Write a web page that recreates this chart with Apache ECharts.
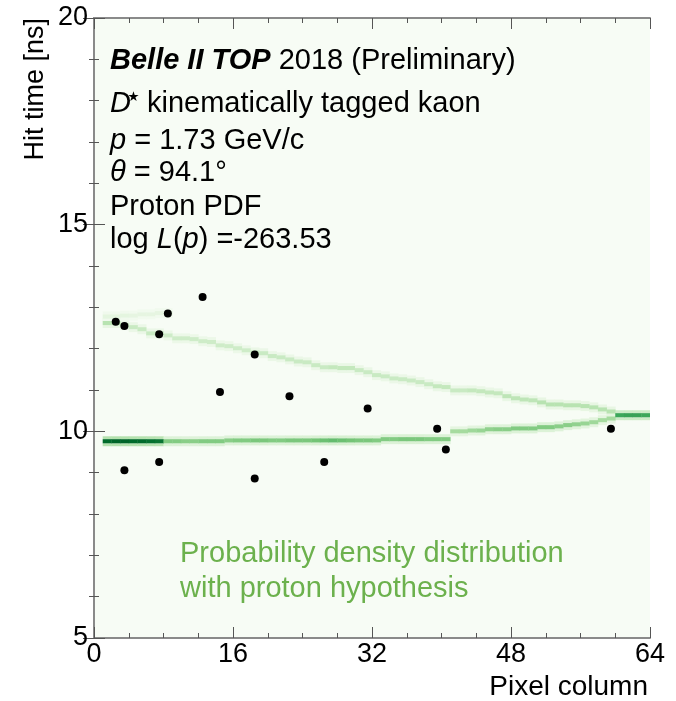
<!DOCTYPE html>
<html><head><meta charset="utf-8">
<script src="https://cdn.jsdelivr.net/npm/echarts@6/dist/echarts.min.js"></script>
<style>html,body{margin:0;padding:0;background:#fff}#c{width:676px;height:701px}</style>
</head><body><div id="c"></div><script>
// ---- data ----
const xTickInterval = 16;
const yTickInterval = 5;
// measured photon hits (pixel column centre, hit time in ns)
const hitCols  = [2.5, 3.5, 7.5, 8.5, 12.5, 14.5, 18.5, 22.5, 31.5, 3.5, 7.5, 18.5, 26.5, 39.5, 40.5, 59.5];
const hitTimes = [12.65, 12.55, 12.35, 12.85, 13.25, 10.95, 11.86, 10.85, 10.55, 9.06, 9.26, 8.86, 9.26, 10.06, 9.56, 10.06];
// PDF ridge: upper (reflected) band, per pixel column 0..63
const upperT = [null,
  12.62,12.62,12.57,12.52,12.47,12.37,12.37,12.32,12.25,12.25,
  12.23,12.18,12.16,12.08,12.06,12.01,11.96,11.91,11.89,11.82,
  11.79,11.74,11.69,11.67,11.60,11.55,11.55,11.53,11.53,11.48,
  11.43,11.36,11.33,11.28,11.26,11.23,11.19,11.14,11.09,11.07,
  10.99,10.99,10.99,10.97,10.94,10.92,10.85,10.80,10.77,10.75,
  10.70,10.65,10.65,10.63,10.63,10.61,10.58,10.53,10.48,
  null,null,null,null];
const upperV = [null,
  0.30,0.30,0.26,0.24,0.24,0.24,0.24,0.22,0.22,0.22,
  0.22,0.22,0.22,0.22,0.22,0.22,0.22,0.24,0.24,0.24,
  0.24,0.24,0.24,0.24,0.24,0.24,0.26,0.26,0.26,0.24,
  0.24,0.24,0.24,0.24,0.24,0.24,0.24,0.24,0.26,0.26,
  0.24,0.24,0.26,0.26,0.26,0.26,0.28,0.28,0.28,0.28,
  0.30,0.30,0.30,0.30,0.30,0.30,0.30,0.30,0.30,
  null,null,null,null];
// PDF ridge: lower (direct) band, per pixel column 0..63
const lowerT = [null,
  9.76,9.76,9.76,9.76,9.76,9.76,9.76,
  9.76,9.76,9.76,9.76,9.76,9.76,9.76,
  9.78,9.78,9.78,9.78,9.78,9.78,9.78,9.78,9.78,
  9.78,9.78,9.78,9.78,9.78,9.78,9.78,9.78,9.78,
  9.81,9.81,9.81,9.81,9.81,9.81,9.81,9.81,
  10.00,10.00,10.02,10.02,10.05,10.05,10.05,10.07,10.07,10.07,
  10.10,10.10,10.12,10.15,10.17,10.19,10.22,10.27,10.31,
  10.39,10.39,10.39,10.39];
const lowerV = [null,
  0.88,0.90,0.90,0.88,0.88,0.86,0.84,
  0.46,0.46,0.44,0.44,0.46,0.46,0.46,
  0.44,0.46,0.46,0.48,0.48,0.46,0.46,0.48,0.48,
  0.48,0.50,0.52,0.54,0.52,0.50,0.48,0.48,0.46,
  0.46,0.46,0.48,0.48,0.48,0.46,0.46,0.46,
  0.36,0.36,0.38,0.40,0.42,0.44,0.44,0.46,0.46,0.46,
  0.46,0.46,0.44,0.44,0.42,0.40,0.38,0.36,0.36,
  0.64,0.66,0.66,0.64];
// faint secondary branch at small pixel columns
const faintCols = [1, 2, 3, 4, 5, 6, 7, 8];
const faintT = [12.78, 12.78, 12.80, 12.80, 12.83, 12.83, 12.86, 12.86];
const faintV = [0.13, 0.13, 0.13, 0.12, 0.12, 0.12, 0.12, 0.12];

// ---- build heat-map cells ----
const CORE_H = 0.1, HALO_H = 0.07, HALO_F = 0.35;
const halo = [], core = [];
function addCell(c, t, v) {
  halo.push([c, t + (CORE_H + HALO_H) / 2, v * HALO_F, HALO_H]);
  halo.push([c, t - (CORE_H + HALO_H) / 2, v * HALO_F, HALO_H]);
  core.push([c, t, v, CORE_H]);
}
for (let c = 0; c < 64; c++) {
  if (upperT[c] != null) addCell(c, upperT[c], upperV[c]);
  if (lowerT[c] != null) addCell(c, lowerT[c], lowerV[c]);
}
faintCols.forEach((c, i) => addCell(c, faintT[i], faintV[i]));
const cells = halo.concat(core);
const hits = hitCols.map((c, i) => [c, hitTimes[i]]);

const greens = ['#f7fcf5','#e5f5e0','#c7e9c0','#a1d99b','#74c476','#41ab5d','#238b45','#006d2c','#00441b'];
const FF = '"Liberation Sans", Arial, Helvetica, sans-serif';
const FS = 29;

function renderCell(params, api) {
  const c = api.value(0), t = api.value(1), h = api.value(3);
  const p0 = api.coord([c, t + h / 2]);
  const p1 = api.coord([c + 1, t - h / 2]);
  return {
    type: 'rect',
    shape: { x: p0[0], y: p0[1], width: p1[0] - p0[0] + 0.4, height: p1[1] - p0[1] },
    style: { fill: api.visual('color') }
  };
}

const axisCommon = {
  type: 'value',
  axisLine: { show: true, lineStyle: { color: '#8a8a8a', width: 2 } },
  axisTick: { show: true, inside: true, length: 11, lineStyle: { color: '#555', width: 1 } },
  minorTick: { show: true, length: 5, lineStyle: { color: '#555', width: 1 } },
  splitLine: { show: false },
  minorSplitLine: { show: false }
};
const it = { fontSize: FS, fontFamily: FF, fontStyle: 'italic', fill: '#000' };

const chart = echarts.init(document.getElementById('c'), null, { renderer: 'canvas' });
chart.setOption({
  animation: false,
  backgroundColor: '#ffffff',
  grid: { left: 94, right: 26, top: 18, bottom: 63, show: true, backgroundColor: greens[0], borderWidth: 0 },
  visualMap: { type: 'continuous', show: false, seriesIndex: 0, dimension: 2, min: 0, max: 1, inRange: { color: greens } },
  xAxis: [
    Object.assign({}, axisCommon, {
      position: 'bottom', min: 0, max: 64, interval: xTickInterval,
      minorTick: Object.assign({}, axisCommon.minorTick, { splitNumber: 4 }),
      axisLabel: { show: true, fontSize: 27, fontFamily: FF, color: '#000', margin: 3 }
    }),
    Object.assign({}, axisCommon, {
      position: 'top', min: 0, max: 64, interval: xTickInterval,
      minorTick: Object.assign({}, axisCommon.minorTick, { splitNumber: 4 }),
      axisLabel: { show: false }
    })
  ],
  yAxis: [
    Object.assign({}, axisCommon, {
      position: 'left', min: 5, max: 20, interval: yTickInterval,
      minorTick: Object.assign({}, axisCommon.minorTick, { splitNumber: 5 }),
      axisLabel: { show: true, fontSize: 27, fontFamily: FF, color: '#000', margin: 6 }
    }),
    Object.assign({}, axisCommon, {
      position: 'right', min: 5, max: 20, interval: yTickInterval,
      minorTick: Object.assign({}, axisCommon.minorTick, { splitNumber: 5 }),
      axisLabel: { show: false }
    })
  ],
  series: [
    { type: 'custom', renderItem: renderCell, data: cells, encode: { x: 0, y: 1 }, clip: true, z: 2, silent: true },
    { type: 'scatter', data: hits, symbol: 'circle', symbolSize: 8, itemStyle: { color: '#000', opacity: 1 }, z: 5, silent: true }
  ],
  graphic: [
    { type: 'text', x: 110, y: 61, z: 10, style: { text: '{b|Belle II TOP} 2018 (Preliminary)', fontSize: FS, fontFamily: FF, fill: '#000', verticalAlign: 'middle',
      rich: { b: { fontSize: FS, fontFamily: FF, fontWeight: 'bold', fontStyle: 'italic', fill: '#000' } } } },
    { type: 'text', x: 110, y: 104, z: 10, style: { text: 'D', fontSize: FS, fontFamily: FF, fontStyle: 'italic', fill: '#000', verticalAlign: 'middle' } },
    { type: 'text', x: 133.5, y: 98, z: 10, style: { text: '⋆', fontSize: 27, fontFamily: '"DejaVu Sans", sans-serif', fill: '#000', align: 'center', verticalAlign: 'middle' } },
    { type: 'text', x: 147, y: 104, z: 10, style: { text: 'kinematically tagged kaon', fontSize: FS, fontFamily: FF, fill: '#000', verticalAlign: 'middle' } },
    { type: 'text', x: 110, y: 141, z: 10, style: { text: '{i|p} = 1.73 GeV/c', fontSize: FS, fontFamily: FF, fill: '#000', verticalAlign: 'middle', rich: { i: it } } },
    { type: 'text', x: 110, y: 173, z: 10, style: { text: '{i|θ} = 94.1°', fontSize: FS, fontFamily: FF, fill: '#000', verticalAlign: 'middle', rich: { i: it } } },
    { type: 'text', x: 110, y: 207, z: 10, style: { text: 'Proton PDF', fontSize: FS, fontFamily: FF, fill: '#000', verticalAlign: 'middle' } },
    { type: 'text', x: 110, y: 240, z: 10, style: { text: 'log {i|L}({i|p}) =-263.53', fontSize: FS, fontFamily: FF, fill: '#000', verticalAlign: 'middle', rich: { i: it } } },
    { type: 'text', x: 180, y: 554, z: 10, style: { text: 'Probability density distribution', fontSize: 29, fontFamily: FF, fill: '#6cb14d', verticalAlign: 'middle' } },
    { type: 'text', x: 180, y: 589, z: 10, style: { text: 'with proton hypothesis', fontSize: 29, fontFamily: FF, fill: '#6cb14d', verticalAlign: 'middle' } },
    { type: 'text', x: 36, y: 18, rotation: Math.PI / 2, z: 10, style: { text: 'Hit time [ns]', fontSize: 27, fontFamily: FF, fill: '#000', align: 'right', verticalAlign: 'middle' } },
    { type: 'text', x: 648, y: 687, z: 10, style: { text: 'Pixel column', fontSize: 28, fontFamily: FF, fill: '#000', align: 'right', verticalAlign: 'middle' } }
  ]
});
</script></body></html>
